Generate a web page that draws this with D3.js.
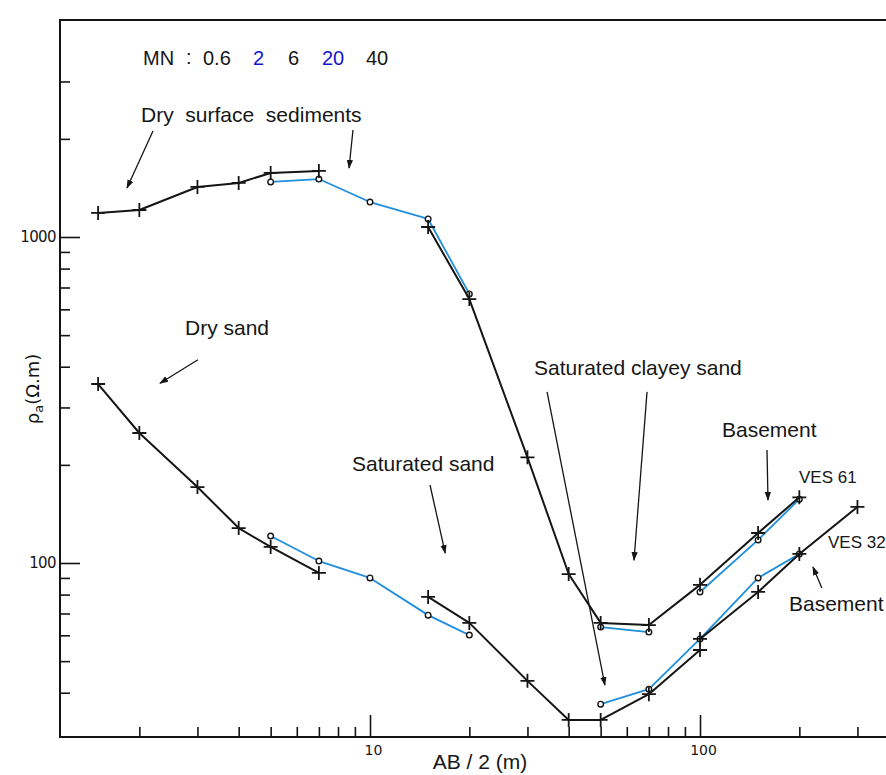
<!DOCTYPE html>
<meta charset="utf-8">
<style>
 body { margin: 0; background: #fff; }
 svg { display: block; }
 .lbl { font-family: "Liberation Sans", Arial, sans-serif; fill: #161616; white-space: pre; }
 .tick text { font-family: "DejaVu Sans", sans-serif; fill: #161616; }
</style>
<body>
<script src="https://d3js.org/d3.v7.min.js"></script>
<script>
// AB/2 (m) and apparent resistivity (ohm.m)
var ves61CrossAX = [1.5, 2, 3, 4, 5, 7],
    ves61CrossAY = [1185, 1210, 1424, 1465, 1572, 1595];
var ves61CircAX = [5, 7, 10, 15, 20],
    ves61CircAY = [1475, 1506, 1280, 1136, 669];
var ves61CrossBX = [15, 20, 30, 40, 50, 70, 100, 150, 200],
    ves61CrossBY = [1073, 645, 211, 92.5, 65.5, 64.5, 85.7, 123.6, 159];
var ves61CircBX = [50, 70],
    ves61CircBY = [63.6, 61.4];
var ves61CircCX = [100, 150, 200],
    ves61CircCY = [81.5, 117.7, 157];

var ves32CrossAX = [1.5, 2, 3, 4, 5, 7],
    ves32CrossAY = [354, 250.5, 171, 128, 112, 93.2];
var ves32CircAX = [5, 7, 10, 15, 20],
    ves32CircAY = [121, 101.4, 90, 69.2, 60.1];
var ves32CrossBX = [15, 20, 30, 40, 50, 70, 100],
    ves32CrossBY = [78.7, 65.5, 43.5, 33, 33, 39.6, 54.1];
var ves32CircBX = [50, 70, 100, 150, 200],
    ves32CircBY = [36.9, 41, 58.5, 90, 106.6];
var ves32CrossCX = [100, 150, 200, 300],
    ves32CrossCY = [58.5, 81.5, 106.6, 148.6];

var xMajor = [10, 100],
    xMinor = [2, 3, 4, 5, 6, 7, 8, 9, 20, 30, 40, 50, 60, 70, 80, 90, 200, 300];
var yMajor = [100, 1000],
    yMinor = [40, 50, 60, 70, 80, 90, 200, 300, 400, 500, 600, 700, 800, 900, 2000, 3000];

// arrows: [x0, y0, x1, y1] in data units
var arrows = [
  [2.20, 2114, 1.835, 1413],
  [8.88, 2129, 8.64, 1628],
  [3.01, 420, 2.31, 356],
  [15.2, 173.5, 16.9, 107.3],
  [34.4, 335, 51.5, 42.2],
  [69.1, 335, 63.1, 102],
  [159.6, 222, 160.7, 156],
  [234, 83.8, 220, 97.2]
];

var W = 886, H = 775;
var padLeft = 60, padTop = 20, axisY = 737;

var svg = d3.select("body").append("svg")
    .attr("width", W).attr("height", H);

var x = d3.scaleLog().domain([1, 1000]).range([40, 1030]),
    y = d3.scaleLog().domain([100, 1000]).range([563, 237]);

var black = "#151515", blue = "#1f8edb";

svg.append("defs").append("marker")
    .attr("id", "ah").attr("viewBox", "0 0 10 10")
    .attr("refX", 9).attr("refY", 5)
    .attr("markerWidth", 9).attr("markerHeight", 9)
    .attr("markerUnits", "userSpaceOnUse")
    .attr("orient", "auto")
  .append("path").attr("d", "M0,1.5L10,5L0,8.5Z").attr("fill", black);

// frame
svg.append("path")
    .attr("d", "M" + W + "," + padTop + "H" + padLeft + "V" + axisY + "H" + W)
    .attr("fill", "none").attr("stroke", black).attr("stroke-width", 2);

// ticks point inwards
function styleAxis(g) {
  g.select(".domain").remove();
  g.selectAll(".tick line").attr("stroke", black).attr("stroke-width", 1.6);
}
svg.append("g").attr("transform", "translate(0," + axisY + ")")
    .call(d3.axisBottom(x).tickValues(xMinor).tickSize(-10).tickFormat(""))
    .call(styleAxis);
svg.append("g").attr("transform", "translate(0," + axisY + ")")
    .call(d3.axisBottom(x).tickValues(xMajor).tickSize(-22).tickFormat(d3.format("d")))
    .call(styleAxis)
    .call(function (g) {
      g.selectAll(".tick text").attr("y", 8).attr("dy", "0.71em")
        .attr("dx", 3).attr("font-size", 14);
    });

svg.append("g").attr("transform", "translate(" + padLeft + ",0)")
    .call(d3.axisLeft(y).tickValues(yMinor).tickSize(-10).tickFormat(""))
    .call(styleAxis);
svg.append("g").attr("transform", "translate(" + padLeft + ",0)")
    .call(d3.axisLeft(y).tickValues(yMajor).tickSize(-20).tickFormat(d3.format("d")))
    .call(styleAxis)
    .call(function (g) {
      g.selectAll(".tick text").attr("x", -4).attr("font-size", 15)
        .attr("letter-spacing", -0.6);
    });

// axis titles
svg.append("text").attr("class", "lbl")
    .attr("x", 480).attr("y", 769).attr("text-anchor", "middle")
    .style("font-family", "'Liberation Sans Narrow', 'Arial Narrow', 'Liberation Sans', sans-serif")
    .attr("font-size", 21).text("AB / 2 (m)");

var yl = svg.append("text")
    .attr("transform", "translate(39,389) rotate(-90)")
    .attr("text-anchor", "middle")
    .style("font-family", "'DejaVu Sans', sans-serif")
    .attr("font-size", 18).attr("fill", black);
yl.append("tspan").text("ρ");
yl.append("tspan").attr("font-size", 13).attr("dy", 4).text("a");
yl.append("tspan").attr("dy", -4).text("(Ω.m)");

// curves
var line = d3.line().x(function (d) { return x(d[0]); }).y(function (d) { return y(d[1]); });

function series(xs, ys, color, kind) {
  var pts = xs.map(function (v, i) { return [v, ys[i]]; });
  svg.append("path").datum(pts)
      .attr("d", line).attr("fill", "none")
      .attr("stroke", color).attr("stroke-width", kind === "cross" ? 2 : 1.8)
      .attr("stroke-linejoin", "round");
  if (kind === "cross") {
    svg.append("g").selectAll("path").data(pts).enter().append("path")
        .attr("transform", function (d) { return "translate(" + x(d[0]) + "," + y(d[1]) + ")"; })
        .attr("d", "M-7,0H7M0,-7V7")
        .attr("stroke", black).attr("stroke-width", 1.8);
  } else {
    svg.append("g").selectAll("circle").data(pts).enter().append("circle")
        .attr("cx", function (d) { return x(d[0]); })
        .attr("cy", function (d) { return y(d[1]); })
        .attr("r", 2.8).attr("fill", "#fff")
        .attr("stroke", black).attr("stroke-width", 1.4);
  }
}

series(ves61CircAX, ves61CircAY, blue, "circle");
series(ves61CircBX, ves61CircBY, blue, "circle");
series(ves61CircCX, ves61CircCY, blue, "circle");
series(ves61CrossAX, ves61CrossAY, black, "cross");
series(ves61CrossBX, ves61CrossBY, black, "cross");

series(ves32CircAX, ves32CircAY, blue, "circle");
series(ves32CircBX, ves32CircBY, blue, "circle");
series(ves32CrossAX, ves32CrossAY, black, "cross");
series(ves32CrossBX, ves32CrossBY, black, "cross");
series(ves32CrossCX, ves32CrossCY, black, "cross");

// arrows
svg.append("g").selectAll("line").data(arrows).enter().append("line")
    .attr("x1", function (d) { return x(d[0]); })
    .attr("y1", function (d) { return y(d[1]); })
    .attr("x2", function (d) { return x(d[2]); })
    .attr("y2", function (d) { return y(d[3]); })
    .attr("stroke", black).attr("stroke-width", 1.3)
    .attr("marker-end", "url(#ah)");

// labels
function label(txt, px, py, size, color) {
  return svg.append("text").attr("class", "lbl")
      .attr("x", px).attr("y", py).attr("font-size", size)
      .style("fill", color || "#161616").text(txt);
}
label("MN", 143, 65, 20);
label(":", 186, 64, 20);
label("0.6", 203, 65, 20);
label("2", 253, 65, 20, "#1515d0");
label("6", 288, 65, 20);
label("20", 322, 65, 20, "#1515d0");
label("40", 366, 65, 20);

label("Dry  surface  sediments", 141, 122, 21);
label("Dry sand", 185, 335, 21);
label("Saturated sand", 352, 471, 21);
label("Saturated clayey sand", 534, 375, 21);
label("Basement", 722, 437, 21);
label("VES 61", 799, 483, 17);
label("VES 32", 828, 548, 17);
label("Basement", 789, 611, 21);
</script>
</body>
